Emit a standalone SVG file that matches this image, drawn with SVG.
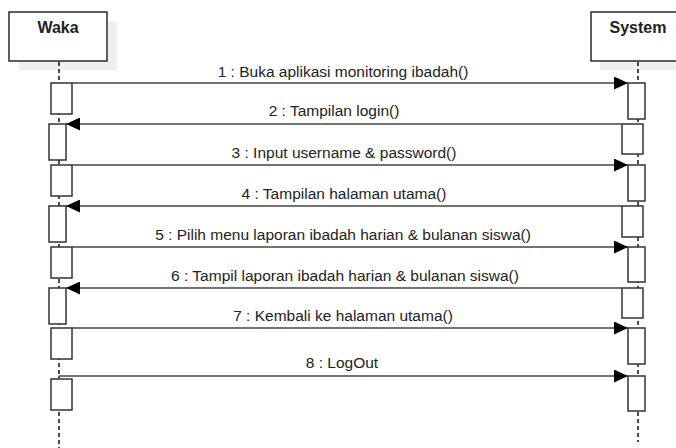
<svg xmlns="http://www.w3.org/2000/svg" width="676" height="448" viewBox="0 0 676 448">
  <style>
    .head { fill: #ffffff; stroke: #2b2b2b; stroke-width: 1.5; }
    .shadow { fill: #efefef; stroke: none; }
    .name { font-family: "Liberation Sans", Arial, sans-serif; font-size: 16px; font-weight: bold; fill: #222222; text-anchor: middle; }
    .life { stroke: #111111; stroke-width: 1.5; stroke-dasharray: 4 3; fill: none; }
    .act { fill: #ffffff; stroke: #333333; stroke-width: 1.5; }
    .msg { stroke: #444444; stroke-width: 1.4; fill: none; marker-end: url(#head); }
    .lbl { font-family: "Liberation Sans", Arial, sans-serif; font-size: 15.5px; fill: #222222; text-anchor: middle; }
  </style>
  <defs>
    <marker id="head" markerUnits="userSpaceOnUse" markerWidth="14" markerHeight="13" refX="14" refY="6.5" orient="auto">
      <path d="M0,0 L14,6.5 L0,13 Z" fill="#000000"/>
    </marker>
  </defs>
  <rect width="676" height="448" fill="#ffffff"/>

  <!-- lifeline: Waka -->
  <g id="waka">
    <rect class="shadow" x="19" y="21" width="98" height="49"/>
    <rect class="head" x="9" y="12" width="98" height="49"/>
    <text class="name" x="58" y="33">Waka</text>
    <line class="life" x1="59" y1="62" x2="59" y2="448"/>
    <rect class="act" x="51" y="83" width="21" height="31"/>
    <rect class="act" x="49" y="124" width="17" height="36"/>
    <rect class="act" x="51" y="165" width="21" height="31"/>
    <rect class="act" x="49" y="206" width="17" height="36"/>
    <rect class="act" x="51" y="247" width="21" height="31"/>
    <rect class="act" x="49" y="288" width="17" height="36"/>
    <rect class="act" x="51" y="328" width="21" height="31"/>
    <rect class="act" x="51" y="379" width="21" height="31"/>
  </g>

  <!-- lifeline: System -->
  <g id="system">
    <rect class="shadow" x="600" y="21" width="98" height="49"/>
    <rect class="head" x="591" y="12" width="98" height="49"/>
    <text class="name" x="638" y="33">System</text>
    <line class="life" x1="638" y1="62" x2="638" y2="442"/>
    <rect class="act" x="628" y="83" width="17" height="36"/>
    <rect class="act" x="622" y="124" width="21" height="30"/>
    <rect class="act" x="628" y="165" width="17" height="36"/>
    <rect class="act" x="622" y="206" width="21" height="31"/>
    <rect class="act" x="628" y="247" width="17" height="35"/>
    <rect class="act" x="622" y="288" width="21" height="30"/>
    <rect class="act" x="628" y="328" width="17" height="36"/>
    <rect class="act" x="628" y="376" width="17" height="35"/>
  </g>

  <!-- messages -->
  <g id="messages">
    <line class="msg" x1="72" y1="83" x2="628" y2="83"/>
    <line class="msg" x1="622" y1="124" x2="66" y2="124"/>
    <line class="msg" x1="72" y1="165" x2="628" y2="165"/>
    <line class="msg" x1="622" y1="206" x2="66" y2="206"/>
    <line class="msg" x1="72" y1="247" x2="628" y2="247"/>
    <line class="msg" x1="622" y1="288" x2="66" y2="288"/>
    <line class="msg" x1="72" y1="328" x2="628" y2="328"/>
    <line class="msg" x1="59" y1="376" x2="628" y2="376"/>
    <line x1="59" y1="376" x2="59" y2="379" stroke="#444444" stroke-width="1.4"/>

    <text class="lbl" x="343" y="77">1 : Buka aplikasi monitoring ibadah()</text>
    <text class="lbl" x="334" y="116">2 : Tampilan login()</text>
    <text class="lbl" x="344" y="158">3 : Input username &amp; password()</text>
    <text class="lbl" x="344" y="199">4 : Tampilan halaman utama()</text>
    <text class="lbl" x="343" y="240">5 : Pilih menu laporan ibadah harian &amp; bulanan siswa()</text>
    <text class="lbl" x="345" y="281">6 : Tampil laporan ibadah harian &amp; bulanan siswa()</text>
    <text class="lbl" x="343" y="321">7 : Kembali ke halaman utama()</text>
    <text class="lbl" x="342" y="368">8 : LogOut</text>
  </g>
</svg>
